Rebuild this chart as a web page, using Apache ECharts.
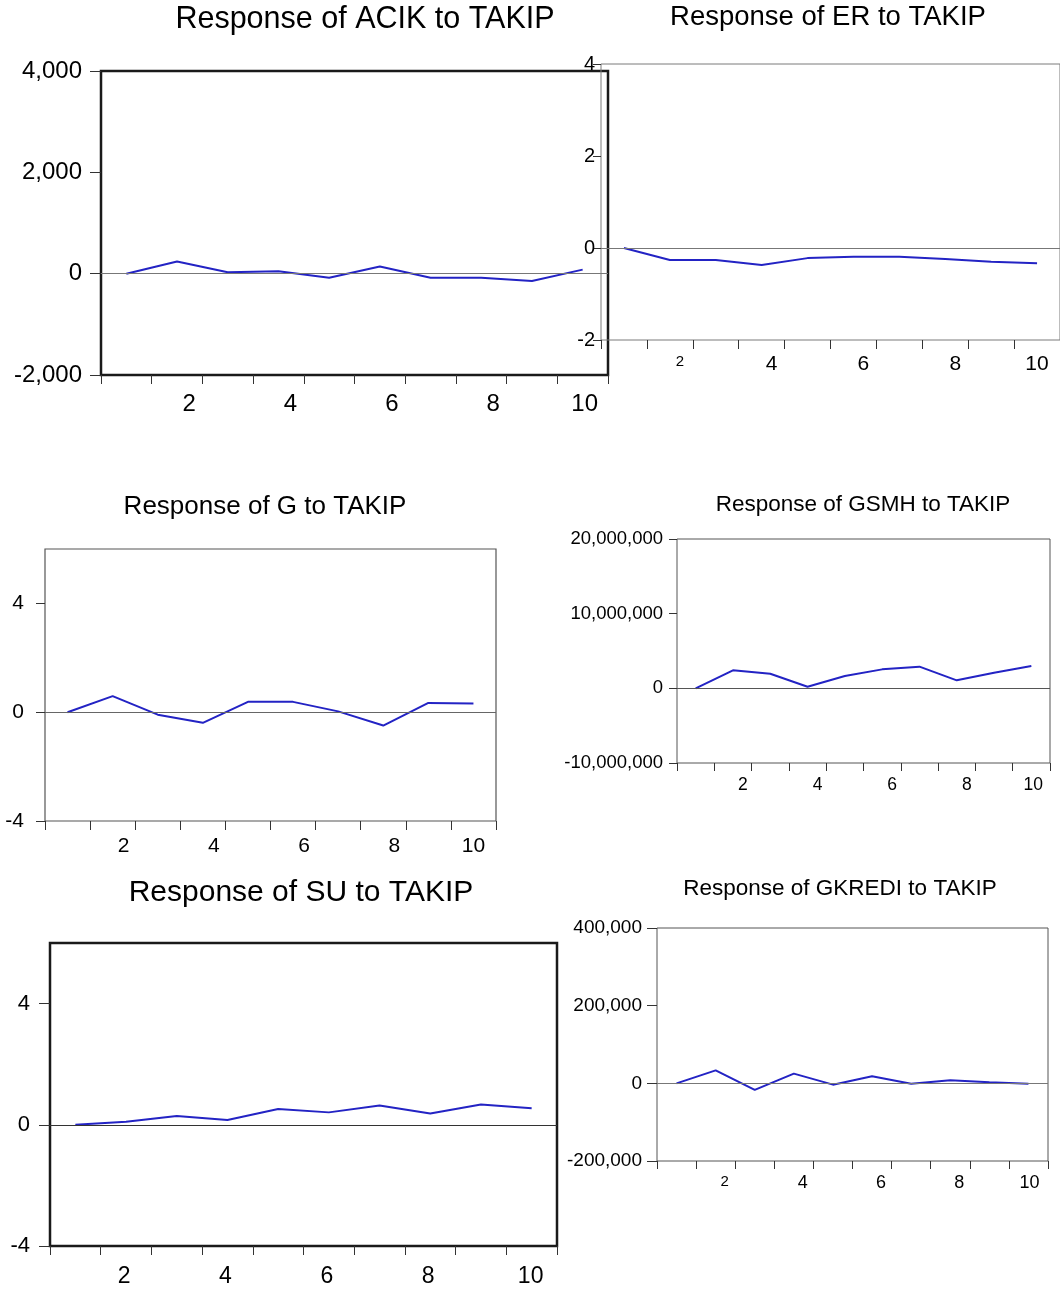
<!DOCTYPE html>
<html>
<head>
<meta charset="utf-8">
<script src="https://cdn.jsdelivr.net/npm/echarts@6/dist/echarts.min.js"></script>
<style>
  html, body { margin: 0; padding: 0; background: #ffffff; }
  #chart { width: 1060px; height: 1294px; }
</style>
</head>
<body>
<div id="chart"></div>
<script>
// Impulse responses to a TAKIP shock over ten periods
const periods = [1, 2, 3, 4, 5, 6, 7, 8, 9, 10];
const labelledPeriods = [2, 4, 6, 8, 10];

const acik   = [0, 240, 30, 50, -80, 140, -80, -80, -145, 80];
const er     = [0, -0.26, -0.26, -0.37, -0.22, -0.19, -0.19, -0.24, -0.30, -0.33];
const g      = [0, 0.59, -0.09, -0.39, 0.38, 0.38, 0.03, -0.49, 0.34, 0.32];
const gsmh   = [0, 2410000, 1960000, 220000, 1650000, 2540000, 2900000, 1070000, 2100000, 2990000];
const su     = [0, 0.10, 0.29, 0.16, 0.52, 0.41, 0.64, 0.37, 0.67, 0.55];
const gkredi = [0, 33500, -17000, 25000, -3400, 18000, -1000, 7700, 2600, -900];

const acikTicks   = [-2000, 0, 2000, 4000];
const erTicks     = [-2, 0, 2, 4];
const gTicks      = [-4, 0, 4];
const gsmhTicks   = [-10000000, 0, 10000000, 20000000];
const suTicks     = [-4, 0, 4];
const gkrediTicks = [-200000, 0, 200000, 400000];

const FONT = 'Arial, "Liberation Sans", Helvetica, sans-serif';

// Layout and styling of each panel
const panels = [
  { name: 'ACIK', data: acik, ticks: acikTicks, min: -2000, max: 4000, step: 2000,
    box: { left: 101, top: 71, width: 507, height: 304 },
    border: { color: '#1a1a1a', width: 2.5 }, zero: '#777777',
    title: { x: 365, y: 20, size: 30.5 },
    yl: { size: 24, margin: 19, tick: 11 },
    xl: { size: 24, margin: 17, tick: 9, shift: 12, shift10: 2, two: null } },
  { name: 'ER', data: er, ticks: erTicks, min: -2, max: 4, step: 2,
    box: { left: 601, top: 64, width: 461, height: 276 },
    border: { color: '#7a7a7a', width: 1 }, zero: '#777777',
    title: { x: 828, y: 17, size: 27.5 },
    yl: { size: 20, margin: 6, tick: 8 },
    xl: { size: 21, margin: 14, tick: 9, shift: 10, shift10: 0, two: 15 } },
  { name: 'G', data: g, ticks: gTicks, min: -4, max: 6, step: 4,
    box: { left: 45, top: 549, width: 451, height: 272 },
    border: { color: '#555555', width: 1.2 }, zero: '#666666',
    title: { x: 265, y: 507, size: 26 },
    yl: { size: 21, margin: 21, tick: 9 },
    xl: { size: 21, margin: 15, tick: 9, shift: 11, shift10: 0, two: null } },
  { name: 'GSMH', data: gsmh, ticks: gsmhTicks, min: -10000000, max: 20000000, step: 10000000,
    box: { left: 677, top: 539, width: 373, height: 224 },
    border: { color: '#555555', width: 1 }, zero: '#555555',
    title: { x: 863, y: 505, size: 22.5 },
    yl: { size: 18.5, margin: 14, tick: 8 },
    xl: { size: 17.5, margin: 13, tick: 8, shift: 10, shift10: 2, two: null } },
  { name: 'SU', data: su, ticks: suTicks, min: -4, max: 6, step: 4,
    box: { left: 50, top: 943, width: 507, height: 303 },
    border: { color: '#1a1a1a', width: 2.5 }, zero: '#333333',
    title: { x: 301, y: 893, size: 30 },
    yl: { size: 22, margin: 20, tick: 11 },
    xl: { size: 23, margin: 19, tick: 9, shift: -2, shift10: -1, two: null } },
  { name: 'GKREDI', data: gkredi, ticks: gkrediTicks, min: -200000, max: 400000, step: 200000,
    box: { left: 657, top: 928, width: 391, height: 233 },
    border: { color: '#555555', width: 1 }, zero: '#777777',
    title: { x: 840, y: 889, size: 22.5 },
    yl: { size: 19, margin: 15, tick: 10 },
    xl: { size: 18, margin: 13, tick: 8, shift: 9, shift10: 1, two: 15 } }
];

const fmt = v => Number(v).toLocaleString('en-US');

function shiftPad(s) {
  return s >= 0 ? [0, 0, 0, 2 * s] : [0, -2 * s, 0, 0];
}

const option = {
  animation: false,
  backgroundColor: '#ffffff',
  title: [], grid: [], xAxis: [], yAxis: [], series: []
};

panels.forEach((p, i) => {
  option.title.push({
    text: 'Response of ' + p.name + ' to TAKIP',
    left: p.title.x, top: p.title.y - p.title.size / 2,
    textAlign: 'center',
    padding: 0,
    textStyle: { fontFamily: FONT, fontWeight: 'normal', fontSize: p.title.size,
                 lineHeight: p.title.size, color: '#000000' }
  });

  option.grid.push({
    left: p.box.left, top: p.box.top, width: p.box.width, height: p.box.height,
    show: true, backgroundColor: 'transparent',
    borderColor: p.border.color, borderWidth: p.border.width,
    containLabel: false
  });

  const rich = {
    n: { fontFamily: FONT, fontSize: p.xl.size, color: '#000', padding: shiftPad(p.xl.shift) },
    w: { fontFamily: FONT, fontSize: p.xl.size, color: '#000', padding: shiftPad(p.xl.shift10) },
    t: { fontFamily: FONT, fontSize: p.xl.two || p.xl.size, color: '#000',
         padding: shiftPad(p.xl.shift) }
  };

  option.xAxis.push({
    type: 'category', gridIndex: i, boundaryGap: true, position: 'bottom',
    data: periods.map(String),
    axisLine: { show: false, onZero: false },
    axisTick: { show: true, interval: 0, length: p.xl.tick, inside: false,
                lineStyle: { color: '#333333', width: 1 } },
    axisLabel: {
      interval: 0, margin: p.xl.margin, fontFamily: FONT, fontSize: p.xl.size, color: '#000',
      formatter: v => {
        const n = Number(v);
        if (!labelledPeriods.includes(n)) return '';
        if (n === 10) return '{w|' + v + '}';
        if (n === 2 && p.xl.two) return '{t|' + v + '}';
        return '{n|' + v + '}';
      },
      rich: rich
    },
    splitLine: { show: false }
  });

  option.yAxis.push({
    type: 'value', gridIndex: i, min: p.min, max: p.max, interval: p.step,
    axisLine: { show: false, onZero: false },
    axisTick: { show: true, length: p.yl.tick, customValues: p.ticks,
                lineStyle: { color: '#333333', width: 1 } },
    axisLabel: { margin: p.yl.margin, fontFamily: FONT, fontSize: p.yl.size, color: '#000',
                 customValues: p.ticks, formatter: fmt },
    splitLine: { show: false }
  });

  option.series.push({
    type: 'line', name: p.name, xAxisIndex: i, yAxisIndex: i,
    data: p.data, showSymbol: false, symbol: 'none',
    lineStyle: { color: '#2323c4', width: 2 },
    markLine: {
      silent: true, symbol: ['none', 'none'], label: { show: false },
      lineStyle: { color: p.zero, width: 1, type: 'solid' },
      data: [{ yAxis: 0 }]
    }
  });
});

const chart = echarts.init(document.getElementById('chart'), null, { renderer: 'canvas' });
chart.setOption(option);
</script>
</body>
</html>
